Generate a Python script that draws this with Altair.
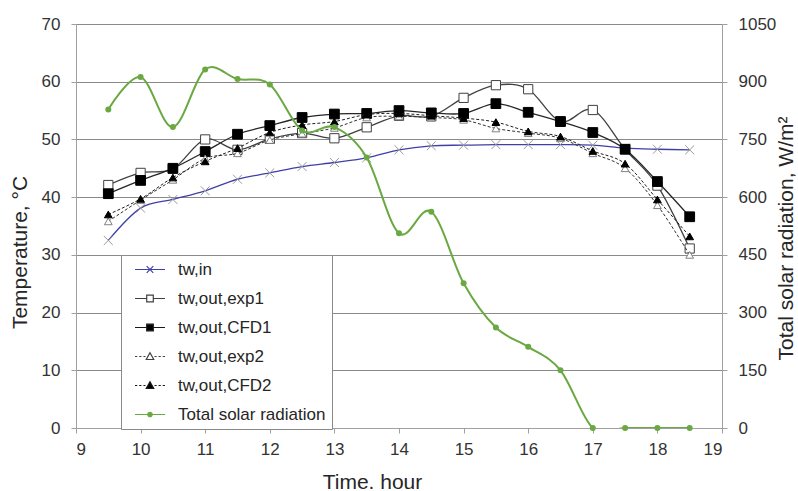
import altair as alt
import pandas as pd

# ---------------- data ----------------
hours = [9.5, 10, 10.5, 11, 11.5, 12, 12.5, 13, 13.5, 14, 14.5, 15, 15.5, 16, 16.5, 17, 17.5, 18, 18.5]
tw_in = [32.5, 38.1, 39.6, 41.1, 43.1, 44.2, 45.3, 46.0, 46.8, 48.2, 48.9, 49.0, 49.1, 49.1, 49.1, 49.0, 48.5, 48.3, 48.2]
tw_out_exp1 = [42.1, 44.2, 44.9, 50.0, 48.2, 50.1, 51.1, 50.2, 52.1, 54.1, 54.0, 57.2, 59.4, 58.7, 53.1, 55.1, 48.3, 42.0, 31.1]
tw_out_cfd1 = [40.6, 42.9, 45.0, 47.9, 50.9, 52.4, 53.8, 54.4, 54.5, 55.0, 54.6, 54.5, 56.2, 54.7, 53.1, 51.2, 48.3, 42.7, 36.6]
tw_out_exp2 = [35.8, 39.5, 43.0, 46.7, 47.6, 49.9, 51.0, 52.0, 53.8, 54.0, 53.8, 53.4, 51.9, 51.1, 50.2, 47.6, 45.0, 38.6, 30.0]
tw_out_cfd2 = [37.0, 39.7, 43.4, 46.2, 48.5, 51.2, 52.5, 53.1, 54.3, 54.5, 54.1, 53.7, 53.0, 51.4, 50.5, 48.0, 45.8, 39.6, 33.2]
solar = [828, 912, 782, 932, 907, 893, 773, 782, 703, 506, 562, 376, 261, 211, 150, 0, 0, 0, 0]

series_names = ["tw,in", "tw,out,exp1", "tw,out,CFD1", "tw,out,exp2", "tw,out,CFD2", "Total solar radiation"]
temp_ticks = [0, 10, 20, 30, 40, 50, 60, 70]
rad_ticks = [0, 150, 300, 450, 600, 750, 900, 1050]
hour_ticks = [9, 10, 11, 12, 13, 14, 15, 16, 17, 18, 19]

df = pd.DataFrame({
    "hour": hours,
    "tw,in": tw_in,
    "tw,out,exp1": tw_out_exp1,
    "tw,out,CFD1": tw_out_cfd1,
    "tw,out,exp2": tw_out_exp2,
    "tw,out,CFD2": tw_out_cfd2,
    "solar": solar,
})
long_df = df.melt(id_vars="hour", value_vars=series_names[:5], var_name="series", value_name="temp")

FONT = "Liberation Sans"
GRID = "#8a8a8a"
DOMAIN = "#a0a0a0"
TXT = "#262626"
LBL = "#333333"

xscale = alt.Scale(domain=[9, 19], nice=False, zero=False)
tscale = alt.Scale(domain=[0, 70], nice=False)
rscale = alt.Scale(domain=[0, 1050], nice=False)

common = dict(tickSize=5, labelFontSize=17, titleFontSize=21, titleFontWeight="normal",
              labelFont=FONT, titleFont=FONT, titleBaseline="middle",
              domainColor=DOMAIN, tickColor=DOMAIN, labelColor=LBL, titleColor=TXT, format="d")

x_axis = alt.Axis(values=hour_ticks, title="Time. hour", grid=False, labelPadding=8,
                  titleX=296, titleY=54, **common)
y_axis = alt.Axis(values=temp_ticks, title="Temperature, °C", grid=True, gridColor=GRID, gridWidth=1,
                  labelPadding=11, titleX=-56, titleY=228, titleAngle=270, **common)
r_axis = alt.Axis(values=rad_ticks, title="Total solar radiation, W/m²", orient="right", grid=False,
                  labelPadding=11, titleX=64, titleY=214, titleAngle=270, **common)

base = alt.Chart(df)
X_ENC = alt.X("hour:Q", scale=xscale, axis=x_axis)


def temp_series(field, line_color, line_width, dash, shape, pt_size, pt_fill, pt_stroke):
    y_enc = alt.Y(field=field, type="quantitative", scale=tscale, axis=y_axis)
    line_kwargs = dict(interpolate="cardinal", color=line_color, strokeWidth=line_width, clip=True)
    if dash:
        line_kwargs["strokeDash"] = dash
    line = base.mark_line(**line_kwargs).encode(x=X_ENC, y=y_enc)
    pts = base.mark_point(shape=shape, size=pt_size, fill=pt_fill, stroke=pt_stroke, filled=False,
                          opacity=1, fillOpacity=1, strokeWidth=1).encode(x=X_ENC, y=y_enc)
    return [line, pts]


X_PATH = "M-1,-1L1,1M-1,1L1,-1"
layers = []
layers += temp_series("tw,in", "#3f3fa8", 1.3, None, X_PATH, 80, "transparent", "#9a9a9a")
layers += temp_series("tw,out,exp1", "#404040", 1.3, None, "square", 85, "white", "#404040")
layers += temp_series("tw,out,CFD1", "#262626", 1.3, None, "square", 95, "black", "black")
layers += temp_series("tw,out,exp2", "#303030", 1.0, [3, 2], "triangle-up", 60, "white", "#808080")
layers += temp_series("tw,out,CFD2", "#202020", 1.0, [3, 2], "triangle-up", 60, "black", "black")

# legend-only layer (invisible marks, legend symbols drawn through shape/fill/stroke scales)
dash_l = "M-1,0H-0.85M-0.72,0H-0.57M-0.44,0H-0.3M0.3,0H0.44M0.57,0H0.72M0.85,0H1"
legend_paths = [
    "M-1,0H1M-0.22,-0.22L0.22,0.22M-0.22,0.22L0.22,-0.22",
    "M-1,0H-0.22M0.22,0H1M-0.22,-0.22H0.22V0.22H-0.22Z",
    "M-1,0H-0.22M0.22,0H1M-0.22,-0.22H0.22V0.22H-0.22Z",
    dash_l + "M0,-0.25L0.25,0.2H-0.25Z",
    dash_l + "M0,-0.25L0.25,0.2H-0.25Z",
    "M-1,0H1M-0.15,0A0.15,0.15,0,1,0,0.15,0A0.15,0.15,0,1,0,-0.15,0Z",
]
GREEN = "#6aa842"
legend_fill = ["transparent", "white", "black", "white", "black", GREEN]
legend_stroke = ["#3f3fa8", "#404040", "#1a1a1a", "#404040", "#1a1a1a", GREEN]

leg = alt.Legend(title=None, orient="none", legendX=45, legendY=231, direction="vertical",
                 padding=6, symbolOffset=7, labelOffset=12, clipHeight=17, rowPadding=11,
                 symbolSize=900, symbolOpacity=1, symbolStrokeWidth=1.2,
                 labelFont=FONT, labelFontSize=17, labelColor=TXT,
                 strokeColor="#8a8a8a", fillColor="white")

legend_layer = alt.Chart(long_df).mark_point(size=900, opacity=0).encode(
    x=X_ENC,
    y=alt.Y("temp:Q", scale=tscale, axis=y_axis),
    shape=alt.Shape("series:N", scale=alt.Scale(domain=series_names, range=legend_paths), legend=leg,
                    sort=series_names),
    fill=alt.Fill("series:N", scale=alt.Scale(domain=series_names, range=legend_fill), legend=leg,
                  sort=series_names),
    stroke=alt.Stroke("series:N", scale=alt.Scale(domain=series_names, range=legend_stroke), legend=leg,
                      sort=series_names),
)

temp_layer = alt.layer(*layers, legend_layer)

R_ENC = alt.Y("solar:Q", scale=rscale, axis=r_axis)
solar_line = base.mark_line(interpolate="cardinal", color=GREEN, strokeWidth=2, clip=True).encode(
    x=X_ENC, y=R_ENC)
solar_pts = base.mark_circle(size=36, color=GREEN, opacity=1).encode(x=X_ENC, y=R_ENC)
solar_layer = alt.layer(solar_line, solar_pts)

chart = alt.layer(temp_layer, solar_layer).resolve_scale(y="independent").properties(
    width=646, height=404,
    autosize=alt.AutoSizeParams(type="none"),
    padding={"left": 76, "top": 24, "right": 76, "bottom": 63},
).configure_view(stroke=None).configure(background="white")

chart.save("out.html", embed_options={"renderer": "svg", "actions": False})
